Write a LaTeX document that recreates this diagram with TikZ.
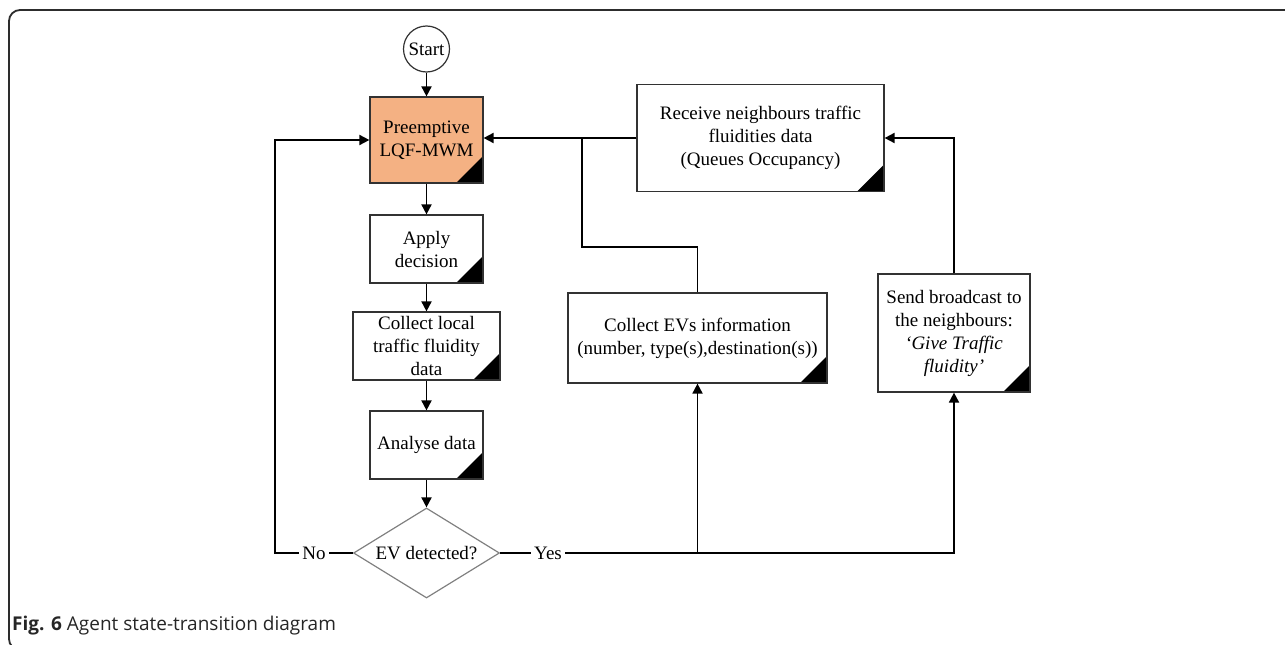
\documentclass[tikz,border=0pt]{standalone}
\usepackage{fontspec}
\setmainfont{Liberation Serif}
\newfontfamily\capfont{Open Sans}
\usetikzlibrary{arrows.meta,shapes.geometric,calc}
\definecolor{boxorange}{RGB}{244,177,131}
\definecolor{edgegray}{RGB}{50,50,50}
\definecolor{framegray}{RGB}{45,45,45}
\begin{document}
\begin{tikzpicture}[x=1pt,y=-1pt,
  every node/.style={font=\fontsize{19}{23}\selectfont},
  state/.style={draw=edgegray, line width=1.2pt, fill=white, align=center, inner sep=0pt,
    path picture={\fill[black] (path picture bounding box.south east) -- ++(-27pt,0pt) -- ++(27pt,27pt) -- cycle;}},
  flow/.style={line width=1.8pt, -{Triangle[length=10pt,width=10pt]}},
  plain/.style={line width=1.8pt},
  tag/.style={fill=white, inner sep=3pt}]
\useasboundingbox (0,0) rectangle (1285,645);

% outer frame (open on the right and bottom)
\draw[line width=1.8pt, draw=framegray, rounded corners=11pt] (1300,650) -- (9,650) -- (9,10) -- (1300,10);

% main column
\node[circle, draw=edgegray, line width=1.2pt, minimum size=46pt, inner sep=0pt] (start) at (426.5,49) {Start};
\node[state, fill=boxorange, minimum width=113pt, minimum height=86pt] (pre) at (426.5,140) {Preemptive\\LQF-MWM};
\node[state, minimum width=113pt, minimum height=68pt] (apply) at (426.5,249) {Apply\\decision};
\node[state, minimum width=147pt, minimum height=68pt] (local) at (426.5,346) {Collect local\\traffic fluidity\\data};
\node[state, minimum width=113pt, minimum height=68pt] (analyse) at (426.5,445) {Analyse data};
\node[diamond, draw=gray, line width=1.2pt, minimum width=146pt, minimum height=90pt, inner sep=0pt] (dec) at (426.5,553) {};
\node (dectext) at (dec.center) {EV detected?};

% right-hand states
\node[state, minimum width=247pt, minimum height=107pt] (recv) at (760.5,138) {Receive neighbours traffic\\fluidities data\\(Queues Occupancy)};
\node[state, minimum width=259pt, minimum height=90pt] (evs) at (697.5,338) {Collect EVs information\\(number, type(s),destination(s))};
\node[state, minimum width=152pt, minimum height=118pt] (send) at (954,333) {Send broadcast to\\the neighbours:\\\textit{`Give Traffic}\\\textit{fluidity'}};

% column flow
\draw[flow] (start) -- (pre);
\draw[flow] (pre) -- (apply);
\draw[flow] (apply) -- (local);
\draw[flow] (local) -- (analyse);
\draw[flow] (analyse) -- (dec);

% "No" branch back to the top
\coordinate (nocorner) at (275,553);
\draw[flow] (dec.west) -- (nocorner) |- (pre.west);
\node[tag] (no) at (314,553) {No};

% "Yes" branch to the right-hand states
\draw[flow] (dec.east) -| (send.south);
\draw[flow] (evs.south |- dec.east) -- (evs.south);
\node[tag] (yes) at (548,553) {Yes};

% feedback into the decision box
\draw[flow] (recv.west) -- (recv.west -| pre.east);
\coordinate (split) at (582,138);
\coordinate (bend) at (697.5,247);
\draw[plain] (evs.north) -- (bend) -| (split);
\draw[flow] (send.north) |- (recv.east);

% caption
\node[anchor=base west, inner sep=0pt, text=black!85, font=\capfont\fontsize{19}{22}\selectfont] (cap) at (12,630) {\textbf{Fig. 6} Agent state-transition diagram};
\end{tikzpicture}
\end{document}
